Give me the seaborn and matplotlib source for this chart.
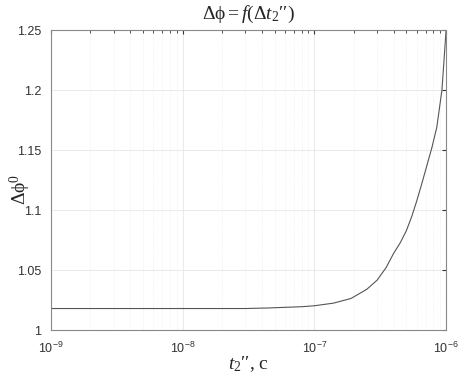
import numpy as np
import pandas as pd
import matplotlib
matplotlib.use("Agg")
import matplotlib.pyplot as plt
import seaborn as sns
from matplotlib.ticker import LogLocator, NullFormatter

# values
t2 = [1e-9, 3e-9, 1e-8, 2e-8, 3e-8, 4.6e-8, 6e-8, 8e-8, 1e-7, 1.4e-7, 1.9e-7,
      2.5e-7, 3e-7, 3.5e-7, 4e-7, 4.5e-7, 5e-7, 5.5e-7, 6e-7, 6.5e-7, 7.1e-7,
      7.8e-7, 8.5e-7, 9.3e-7, 1e-6]
dphi = [1.018, 1.018, 1.018, 1.018, 1.018, 1.0185, 1.019, 1.0195, 1.0203, 1.0225, 1.0264,
        1.034, 1.0417, 1.052, 1.064, 1.073, 1.083, 1.095, 1.108, 1.121, 1.136,
        1.152, 1.169, 1.20, 1.25]

df = pd.DataFrame({'t2': t2, 'dphi': dphi})

sns.set_style("white")
plt.rcParams['font.family'] = ['Liberation Sans', 'DejaVu Sans']
plt.rcParams['mathtext.fontset'] = 'custom'
plt.rcParams['mathtext.rm'] = 'Liberation Serif'
plt.rcParams['mathtext.it'] = 'Liberation Serif:italic'

fig = plt.figure(figsize=(4.58, 3.76), dpi=100)
ax = fig.add_axes([0.111, 0.122, 0.863, 0.798])

p = sns.lineplot(data=df, x='t2', y='dphi', ax=ax, color='#555555', linewidth=0.8)
ax.set_xscale('log')
ax.set_xlim(1e-9, 1e-6)
ax.set_ylim(1, 1.25)
ax.set_yticks([1, 1.05, 1.1, 1.15, 1.2, 1.25])
ax.set_yticklabels(['1', '1.05', '1.1', '1.15', '1.2', '1.25'])
ax.xaxis.set_major_locator(LogLocator(base=10, numticks=10))
ax.xaxis.set_minor_locator(LogLocator(base=10, subs=np.arange(2, 10), numticks=20))
ax.xaxis.set_minor_formatter(NullFormatter())

ax.grid(True, which='major', color='#e6e6e6', linewidth=0.6)
ax.grid(True, which='minor', axis='x', color='#e8e8e8', linewidth=0.5, linestyle=':')
ax.tick_params(which='both', direction='in', top=True, right=True, colors='#333333',
               labelsize=9, length=3)
ax.tick_params(axis='y', pad=7)
ax.tick_params(axis='x', pad=8)
ax.tick_params(which='minor', length=2)
for s in ax.spines.values():
    s.set_color('#888888')
    s.set_linewidth(0.8)

ax.set_title('$\\Delta\\mathrm{\\phi} = f(\\Delta t_2$\u2032\u2032$)$', fontsize=14, pad=8,
             family='Liberation Serif')
ax.set_xlabel('$t_2$\u2032\u2032, c', fontsize=14, family='Liberation Serif')
ax.xaxis.set_label_coords(0.5, -0.08)
ax.set_ylabel(r'$\Delta\mathrm{\phi}^0$', fontsize=14)
ax.yaxis.set_label_coords(-0.045, 0.47)

plt.savefig('out.png', dpi=100)
